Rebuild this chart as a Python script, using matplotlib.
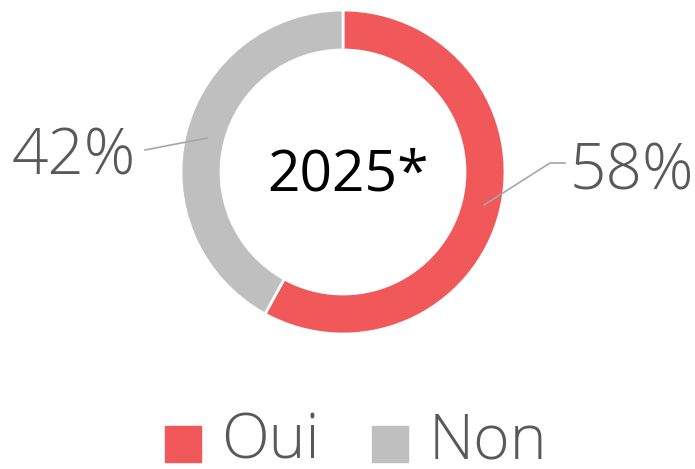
import matplotlib
matplotlib.use("Agg")
import matplotlib.pyplot as plt
from matplotlib.patches import Rectangle

categories = ["Oui", "Non"]
values = [58, 42]
colors = ["#F0585A", "#BFBFBF"]
center_label = "2025*"

W, H = 695, 469
fig = plt.figure(figsize=(W/100, H/100), dpi=100)
ax = fig.add_axes([0, 0, 1, 1])

cx, cy = 343, H - 172
R = 162
wedges, _ = ax.pie(values, colors=colors, startangle=90, counterclock=False,
                   radius=R, center=(cx, cy), frame=True,
                   wedgeprops=dict(width=40, edgecolor="white", linewidth=2))
ax.set_xlim(0, W)
ax.set_ylim(0, H)
ax.set_aspect("equal")
ax.axis("off")

fam = ["Open Sans", "DejaVu Sans"]
txtcol = "#595959"
ax.text(cx + 5, cy - 4, center_label, ha="center", va="center", fontsize=41,
        color="black", family=fam)

# labels with leader lines
ax.plot([484, 550, 565], [H - 205, H - 163, H - 163], color="#A6A6A6", lw=1.2)
ax.text(570, H - 173, f"{values[0]}%", ha="left", va="center", fontsize=46,
        color=txtcol, family=fam, fontweight="light")
ax.plot([207, 145], [H - 138, H - 150], color="#A6A6A6", lw=1.2)
ax.text(136, H - 158, f"{values[1]}%", ha="right", va="center", fontsize=46,
        color=txtcol, family=fam, fontweight="light")

# legend
for x0, xt, lab, col in [(165, 221, categories[0], colors[0]), (372, 429, categories[1], colors[1])]:
    ax.add_patch(Rectangle((x0, H - 462), 36, 36, color=col))
    ax.text(xt, H - 442, lab, ha="left", va="center", fontsize=45,
            color=txtcol, family=fam, fontweight="light")

fig.savefig("out.png", dpi=100)
